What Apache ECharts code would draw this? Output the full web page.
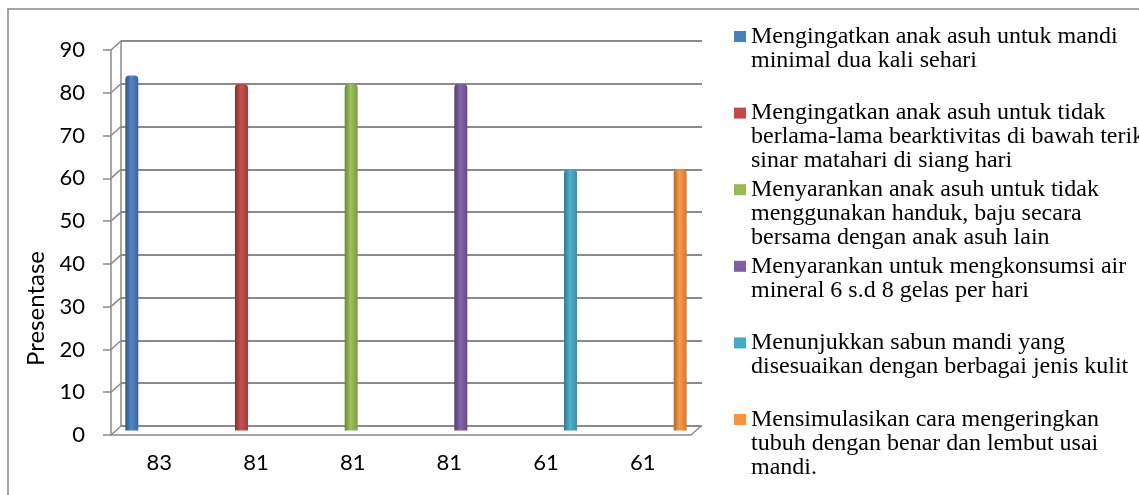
<!DOCTYPE html>
<html><head><meta charset="utf-8">
<script src="https://cdn.jsdelivr.net/npm/echarts@6/dist/echarts.min.js"></script>
<style>html,body{margin:0;padding:0;background:#fff}#c{width:1139px;height:495px}</style>
</head><body><div id="c"></div>
<script>
// ---- data ----
const categories = ['83', '81', '81', '81', '61', '61'];
const values = [83, 81, 81, 81, 61, 61];
const legendLines = [
  ['Mengingatkan anak asuh untuk mandi', 'minimal dua kali sehari'],
  ['Mengingatkan anak asuh untuk tidak', 'berlama-lama bearktivitas di bawah terik', 'sinar matahari di siang hari'],
  ['Menyarankan anak asuh untuk tidak', 'menggunakan handuk, baju secara', 'bersama dengan anak asuh lain'],
  ['Menyarankan untuk mengkonsumsi air', 'mineral 6 s.d 8 gelas per hari'],
  ['Menunjukkan sabun mandi yang', 'disesuaikan dengan berbagai jenis kulit'],
  ['Mensimulasikan cara mengeringkan', 'tubuh dengan benar dan lembut usai', 'mandi.']
];
const seriesNames = legendLines.map(l => l.join(' '));
const yTicks = [0, 10, 20, 30, 40, 50, 60, 70, 80, 90];
const yAxisTitle = 'Presentase';

// ---- styles ----
const solidColors = ['#4a7ebb', '#be4b48', '#98b954', '#7d60a0', '#46aac5', '#f69240'];
const gradStops = [
  ['#2c5688', '#5486c2', '#3a679c'],
  ['#892e2b', '#c4524f', '#9c3c39'],
  ['#6a883a', '#9fc05d', '#7c9b44'],
  ['#523d72', '#8467a6', '#654b85'],
  ['#2d7b92', '#50b0ca', '#3890a8'],
  ['#b56822', '#f89a4b', '#d27a30']
];
const gridColor = '#8a8a8a';
const axisFont = 'Lato, "Open Sans", sans-serif';
const legendFont = '"Liberation Serif", "Times New Roman", serif';
const LH = 24;

const chart = echarts.init(document.getElementById('c'), null, {renderer: 'canvas'});

const barSeries = seriesNames.map((name, i) => ({
  name: name,
  type: 'bar',
  xAxisIndex: 2,
  yAxisIndex: 2,
  stack: 'one',
  barWidth: 13,
  z: 3,
  itemStyle: {
    borderRadius: [4, 4, 0, 0],
    color: new echarts.graphic.LinearGradient(0, 0, 1, 0, [
      {offset: 0, color: gradStops[i][0]},
      {offset: 0.45, color: gradStops[i][1]},
      {offset: 1, color: gradStops[i][2]}
    ])
  },
  data: categories.map((c, j) => (j === i ? values[i] : '-'))
}));

const depthSeries = {
  type: 'custom',
  name: '__depth',
  xAxisIndex: 0,
  yAxisIndex: 0,
  silent: true,
  z: 1,
  clip: false,
  data: yTicks.map(v => [0, v]),
  renderItem: function (params, api) {
    const cs = params.coordSys;
    const y = api.coord([api.value(0), api.value(1)])[1];
    const st = {stroke: gridColor, lineWidth: 1.5};
    const children = [{type: 'line', shape: {x1: cs.x, y1: y, x2: cs.x + 10, y2: y - 9}, style: st}];
    if (api.value(1) === 0) {
      children.push({type: 'line', shape: {x1: cs.x + cs.width, y1: y, x2: cs.x + cs.width + 10, y2: y - 9}, style: st});
    }
    return {type: 'group', children: children};
  }
};

const option = {
  animation: false,
  backgroundColor: '#ffffff',
  grid: [
    {left: 111, right: 448, top: 50, bottom: 60},      // front (labels)
    {left: 121, right: 437, top: 41, bottom: 69},      // back wall (gridlines)
    {left: 77, right: 404, top: 45.5, bottom: 64.5},   // bars
    {left: 8, top: 9, right: 0, bottom: 0}             // outer chart-area frame
  ],
  xAxis: [
    {
      type: 'category', gridIndex: 0, data: categories,
      axisLine: {show: true, lineStyle: {color: gridColor, width: 1.5}},
      axisTick: {show: false},
      axisLabel: {margin: 17, color: '#000', fontSize: 22, fontFamily: axisFont},
      splitLine: {show: false}
    },
    {type: 'category', gridIndex: 1, data: categories, show: false},
    {type: 'category', gridIndex: 2, data: categories, show: false},
    {
      type: 'category', gridIndex: 3, data: categories, position: 'top',
      axisLine: {show: true, onZero: false, lineStyle: {color: '#888888', width: 1.5}},
      axisTick: {show: false}, axisLabel: {show: false}, splitLine: {show: false}
    }
  ],
  yAxis: [
    {
      type: 'value', gridIndex: 0, min: 0, max: 90, interval: 10,
      name: yAxisTitle, nameLocation: 'middle', nameGap: 61,
      nameTextStyle: {color: '#000', fontSize: 24, fontFamily: axisFont, padding: [0, 132, 0, 0]},
      axisLine: {show: true, lineStyle: {color: gridColor, width: 1.5}},
      axisTick: {show: true, length: 8, lineStyle: {color: gridColor, width: 1.5}},
      axisLabel: {margin: 26, color: '#000', fontSize: 22, fontFamily: axisFont},
      splitLine: {show: false}
    },
    {
      type: 'value', gridIndex: 1, min: 0, max: 90, interval: 10,
      axisLine: {show: true, lineStyle: {color: gridColor, width: 1.5}},
      axisTick: {show: false},
      axisLabel: {show: false},
      splitLine: {show: true, lineStyle: {color: gridColor, width: 2}}
    },
    {type: 'value', gridIndex: 2, min: 0, max: 90, show: false, splitLine: {show: false}},
    {
      type: 'value', gridIndex: 3, min: 0, max: 90,
      axisLine: {show: true, lineStyle: {color: '#888888', width: 1.5}},
      axisTick: {show: false}, axisLabel: {show: false}, splitLine: {show: false}
    }
  ],
  legend: {
    orient: 'vertical',
    left: 734,
    top: -23.5,
    padding: 0,
    itemGap: 76.6 - 5 * LH,
    itemWidth: 12,
    itemHeight: 11,
    icon: 'rect',
    selectedMode: false,
    data: seriesNames.map((n, i) => ({name: n, itemStyle: {color: solidColors[i]}})),
    textStyle: {color: '#000', fontSize: 24, fontFamily: legendFont, lineHeight: LH},
    formatter: function (name) {
      const idx = seriesNames.indexOf(name);
      const lines = ['', ''].concat(legendLines[idx]);
      while (lines.length < 5) lines.push('');
      return lines.join('\n');
    }
  },
  series: barSeries.concat([depthSeries])
};
chart.setOption(option);
</script>
</body></html>
